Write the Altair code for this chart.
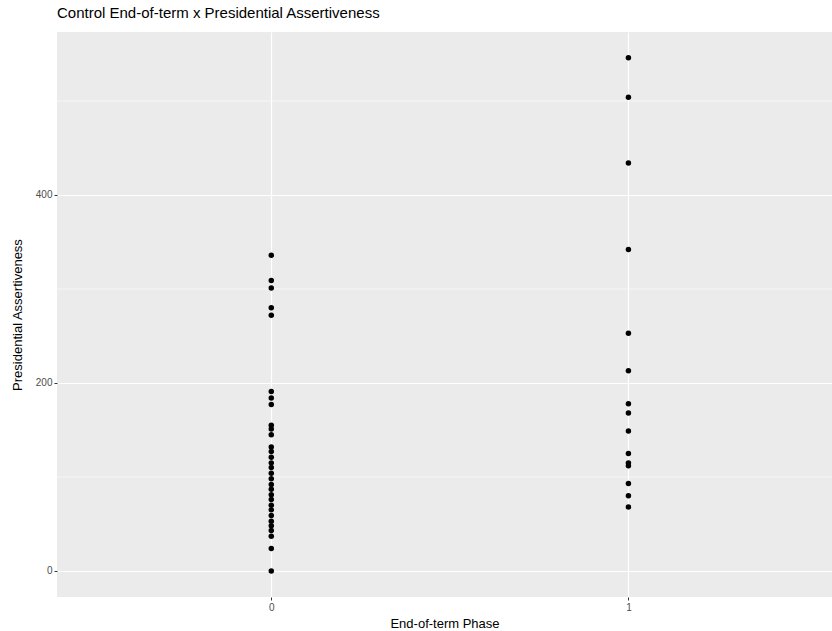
import altair as alt
import pandas as pd

phase0 = [336, 309, 301, 280, 272, 191, 184, 177, 155, 151, 145,
          132, 127, 121, 115, 110, 104, 98, 92, 87, 81, 76, 70, 65,
          59, 53, 48, 43, 37, 24, 0]
phase1 = [546, 504, 434, 342, 253, 213, 178, 168, 149, 125, 115, 112, 93, 80, 68]

df = pd.DataFrame({
    "phase": [0] * len(phase0) + [1] * len(phase1),
    "assert": phase0 + phase1,
})
minor = pd.DataFrame({"v": [100, 300, 500]})

FONT = "Liberation Sans"
xscale = alt.Scale(domain=[-0.6, 1.57], nice=False, zero=False)
yscale = alt.Scale(domain=[-27.7, 573.4], nice=False, zero=False)

minor_rules = alt.Chart(minor).mark_rule(color="white", strokeWidth=0.6).encode(
    y=alt.Y("v:Q", scale=yscale)
)

points = alt.Chart(df).mark_circle(color="black", opacity=1, size=30).encode(
    x=alt.X("phase:Q", scale=xscale,
            axis=alt.Axis(values=[0, 1], format="d", title="End-of-term Phase")),
    y=alt.Y("assert:Q", scale=yscale,
            axis=alt.Axis(values=[0, 200, 400], title="Presidential Assertiveness")),
)

chart = alt.layer(minor_rules, points).properties(
    width=775,
    height=565,
    background="white",
    autosize=alt.AutoSizeParams(type="none"),
    padding={"left": 57, "top": 32, "right": 0, "bottom": 34},
    title=alt.TitleParams(
        "Control End-of-term x Presidential Assertiveness",
        anchor="start", frame="group", font=FONT, fontSize=15,
        fontWeight="normal", color="black", offset=11,
    ),
).configure_view(
    fill="#EBEBEB", stroke=None
).configure_axis(
    grid=True, gridColor="white", gridWidth=1.2, gridOpacity=1, domain=False,
    tickColor="#333333", tickSize=3, tickWidth=1,
    labelColor="#4D4D4D", labelFont=FONT, labelFontSize=10,
    titleFont=FONT, titleFontSize=13, titleFontWeight="normal", titleColor="black",
    labelPadding=2,
).configure_axisX(
    titlePadding=5
).configure_axisY(
    titlePadding=11
)

chart.save("out.html", embed_options={"renderer": "svg", "actions": False})
